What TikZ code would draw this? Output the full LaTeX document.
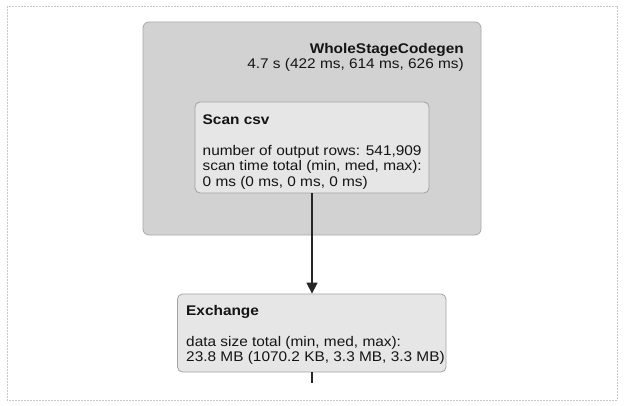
\documentclass[tikz,border=0pt]{standalone}
\usepackage{fontspec}
\setmainfont{Liberation Sans}[FakeStretch=1.1]
\usetikzlibrary{arrows.meta}
\definecolor{outerfill}{HTML}{D2D2D2}
\definecolor{outerline}{HTML}{A8A8A8}
\definecolor{innerfill}{HTML}{E6E6E6}
\definecolor{innerline}{HTML}{A2A2A2}
\definecolor{txt}{HTML}{141414}
\definecolor{edge}{HTML}{262626}
\definecolor{framec}{HTML}{C8C8C8}
\tikzset{
  outerbox/.style={draw=outerline, fill=outerfill, line width=0.8pt, rounded corners=6pt, inner sep=0pt},
  innerbox/.style={draw=innerline, fill=innerfill, line width=0.8pt, rounded corners=5pt, inner sep=0pt},
  lbl/.style={inner sep=0pt, text=txt, font=\fontsize{14}{15}\selectfont},
  ttl/.style={lbl, font=\fontsize{14}{15}\selectfont\bfseries},
  flow/.style={draw=edge, line width=1.5pt},
}
\begin{document}
\begin{tikzpicture}[x=1pt,y=-1pt]
\useasboundingbox (0,0) rectangle (628,406);
\draw[framec, line width=0.6pt, dash pattern=on 2pt off 1pt] (7,6) rectangle (617,400);
% outer stage box
\node[outerbox, minimum width=338pt, minimum height=213pt] (wsc) at (312,128.5) {};
\node[ttl, anchor=base east] (wsctitle) at (464,54) {WholeStageCodegen};
\node[lbl, anchor=base east] (wsctime) at (464,69) {4.7 s (422 ms, 614 ms, 626 ms)};
% scan box
\node[innerbox, minimum width=234pt, minimum height=91pt] (scan) at (312,147.5) {};
\node[ttl, anchor=base west] (scantitle) at (202.5,125) {Scan csv};
\node[lbl, anchor=base west] (scanl1) at (202.5,156) {number of output rows: 541,909};
\node[lbl, anchor=base west] (scanl2) at (202.5,171) {scan time total (min, med, max):};
\node[lbl, anchor=base west] (scanl3) at (202.5,186) {0 ms (0 ms, 0 ms, 0 ms)};
% exchange box
\node[innerbox, minimum width=268.5pt, minimum height=78pt] (exch) at (311.75,333) {};
\node[ttl, anchor=base west] (exchtitle) at (186,315) {Exchange};
\node[lbl, anchor=base west] (exchl1) at (186,346) {data size total (min, med, max):};
\node[lbl, anchor=base west] (exchl2) at (186,361) {23.8 MB (1070.2 KB, 3.3 MB, 3.3 MB)};
% connectors
\coordinate (tail) at (312,383);
\draw[flow, -{Triangle[length=11pt,width=11pt]}] (scan.south -| 312,0) -- (exch.north -| 312,0);
\draw[flow] (exch.south -| 312,0) -- (tail);
\end{tikzpicture}
\end{document}
